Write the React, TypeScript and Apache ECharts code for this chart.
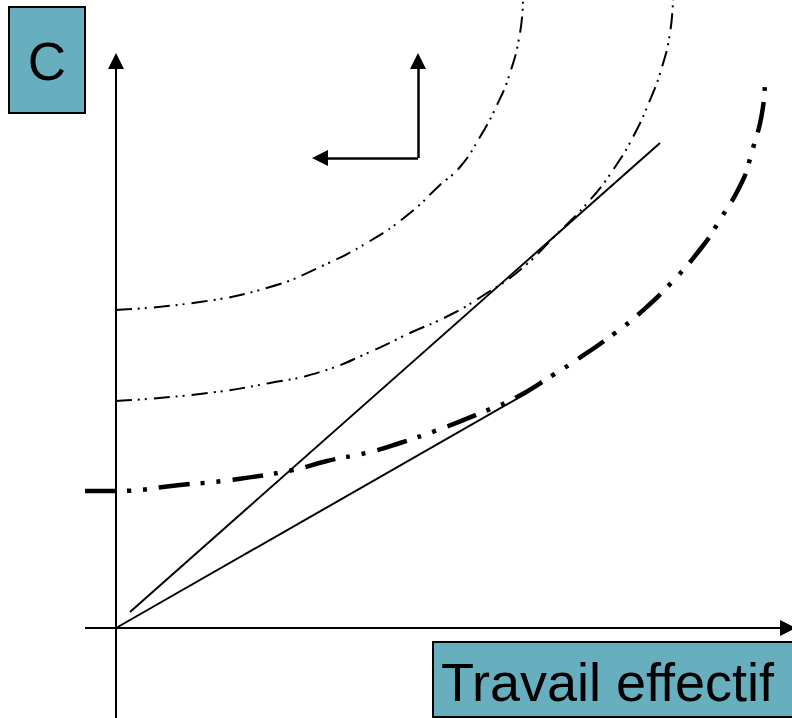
import React, { useEffect, useRef } from "react";
import * as echarts from "echarts";

// Coordinates: x = horizontal distance from the origin, y = height above origin
const curveHigh: number[][] = [
  [0, 318], [84, 326], [154, 341], [204, 361], [254, 387], [294, 415], [324, 443],
  [344, 461], [364, 491], [381, 523], [394, 555], [404, 595], [407, 628],
];
const curveMid: number[][] = [
  [0, 227], [84, 234], [154, 245], [204, 256], [254, 276], [294, 295], [334, 313],
  [371, 335], [404, 358], [439, 392], [474, 428], [497, 458], [517, 491], [534, 528],
  [546, 561], [554, 595], [557, 628],
];
const curveLow: number[][] = [
  [-31, 137], [0, 137], [64, 143], [114, 148], [177, 158], [211, 167], [254, 176],
  [284, 185], [327, 200], [367, 216], [401, 231], [437, 253], [462, 269], [499, 295],
  [524, 315], [556, 346], [586, 381], [602, 405], [626, 446], [635, 473], [647, 521],
  [649, 548],
];
const raySteep: number[][] = [[14, 16], [544, 485]];
const rayFlat: number[][] = [[0, 0], [411, 235]];
const axisY: number[][] = [[0, -90], [0, 567]];
const axisX: number[][] = [[-31, 0], [672, 0]];
const arrowUp: number[][] = [[302, 470], [302, 567]];
const arrowLeft: number[][] = [[302, 470], [204, 470]];

const labelY = "C";
const labelX = "Travail effectif";

export default function App() {
  const ref = useRef<HTMLDivElement>(null);
  useEffect(() => {
    if (!ref.current) return;
    const chart = echarts.init(ref.current, undefined, { renderer: "svg" });
    const teal = "#67AFBE";
    const font = '"Liberation Sans", Arial, sans-serif';
    chart.setOption({
      animation: false,
      backgroundColor: "#ffffff",
      grid: { left: 0, right: 0, top: 0, bottom: 0, containLabel: false },
      xAxis: { type: "value", min: -116, max: 676, show: false },
      yAxis: { type: "value", min: -90, max: 628, show: false },
      series: [
        {
          type: "line",
          data: curveHigh,
          smooth: 0.5,
          showSymbol: false,
          lineStyle: { color: "#000", width: 2, type: [16, 6, 2, 5, 2, 7] },
        },
        {
          type: "line",
          data: curveMid,
          smooth: 0.5,
          showSymbol: false,
          lineStyle: { color: "#000", width: 2, type: [16, 6, 2, 5, 2, 7] },
        },
        {
          type: "line",
          data: curveLow,
          smooth: 0.5,
          showSymbol: false,
          lineStyle: { color: "#000", width: 4.5, type: [31, 11, 4, 12, 4, 12] },
        },
        {
          type: "line",
          data: raySteep,
          showSymbol: false,
          lineStyle: { color: "#000", width: 2 },
        },
        {
          type: "line",
          data: rayFlat,
          showSymbol: false,
          lineStyle: { color: "#000", width: 2 },
        },
        {
          type: "lines",
          coordinateSystem: "cartesian2d",
          symbol: ["none", "triangle"],
          symbolSize: 16,
          lineStyle: { color: "#000", width: 2, opacity: 1 },
          itemStyle: { color: "#000" },
          data: [{ coords: axisY }, { coords: axisX }],
        },
        {
          type: "lines",
          coordinateSystem: "cartesian2d",
          symbol: ["none", "triangle"],
          symbolSize: 16,
          lineStyle: { color: "#000", width: 2.5, opacity: 1 },
          itemStyle: { color: "#000" },
          data: [{ coords: arrowUp }, { coords: arrowLeft }],
        },
      ],
      graphic: [
        {
          type: "rect",
          shape: { x: 9, y: 7, width: 76, height: 106 },
          style: { fill: teal, stroke: "#000", lineWidth: 2 },
        },
        {
          type: "text",
          style: {
            text: labelY,
            x: 47,
            y: 61,
            fontSize: 53,
            fontFamily: font,
            fill: "#000",
            align: "center",
            verticalAlign: "middle",
          },
        },
        {
          type: "rect",
          shape: { x: 433, y: 642, width: 370, height: 75 },
          style: { fill: teal, stroke: "#000", lineWidth: 2 },
        },
        {
          type: "text",
          style: {
            text: labelX,
            x: 441,
            y: 682,
            fontSize: 54,
            fontFamily: font,
            fill: "#000",
            align: "left",
            verticalAlign: "middle",
          },
        },
      ],
    });
    return () => chart.dispose();
  }, []);
  return (
    <div
      ref={ref}
      style={{ position: "absolute", left: 0, top: 0, width: 792, height: 718 }}
    />
  );
}
